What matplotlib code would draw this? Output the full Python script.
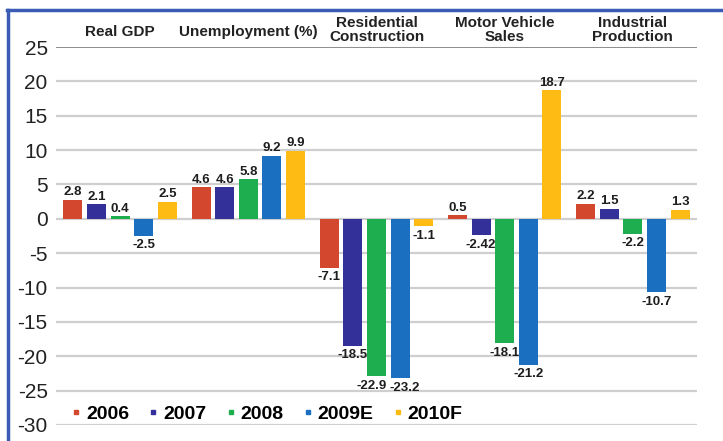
import matplotlib
matplotlib.use("Agg")
import matplotlib.pyplot as plt
from matplotlib.lines import Line2D
import numpy as np

plt.rcParams['font.family'] = ['Liberation Sans', 'DejaVu Sans']

categories = ["Real GDP", "Unemployment (%)", "Residential\nConstruction",
              "Motor Vehicle\nSales", "Industrial\nProduction"]
years = ["2006", "2007", "2008", "2009E", "2010F"]
colors = ["#d4472f", "#33309a", "#1fae4f", "#1a6fc0", "#fdbb13"]

v2006 = [2.8, 4.6, -7.1, 0.5, 2.2]
v2007 = [2.1, 4.6, -18.5, -2.42, 1.5]
v2008 = [0.4, 5.8, -22.9, -18.1, -2.2]
v2009 = [-2.5, 9.2, -23.2, -21.2, -10.7]
v2010 = [2.5, 9.9, -1.1, 18.7, 1.3]
series = [v2006, v2007, v2008, v2009, v2010]
yticks = [25, 20, 15, 10, 5, 0, -5, -10, -15, -20, -25, -30]

fig = plt.figure(figsize=(7.23, 4.41), dpi=100)
ax = fig.add_axes([56 / 723, 1 - 425 / 441, 641 / 723, 378 / 441])

x = np.arange(len(categories))
step = 0.184
width = 0.148
labels = [[None] * len(series) for _ in categories]
for k, (vals, col) in enumerate(zip(series, colors)):
    pos = x + (k - 2) * step
    ax.bar(pos, vals, width=width, color=col, zorder=3)
    for g, (px, v) in enumerate(zip(pos, vals)):
        if v >= 0:
            t = ax.annotate(f"{v:g}", (px, v), xytext=(0, 1), textcoords="offset points",
                            ha="center", va="bottom", fontsize=9.5, fontweight="bold",
                            color="#1e1e1e", zorder=4)
        else:
            t = ax.annotate(f"{v:g}", (px, v), xytext=(0, -2.5), textcoords="offset points",
                            ha="center", va="top", fontsize=9.5, fontweight="bold",
                            color="#1e1e1e", zorder=4)
        labels[g][k] = t

ax.set_xlim(-0.5, len(categories) - 0.5)
ax.set_ylim(-30, 25)
ax.set_yticks(yticks)
ax.set_yticklabels([str(t) for t in yticks], fontsize=15, color="#222222")
ax.tick_params(axis="y", length=0, pad=6)
ax.set_xticks([])
for s in ax.spines.values():
    s.set_visible(False)

for t in yticks:
    if t == 25:
        ax.axhline(t, color="#7a7a7a", lw=1.2, zorder=1)
    else:
        ax.axhline(t, color="#cfcfcf", lw=1.6, zorder=1)

for xi, cat in zip(x, categories):
    ypos = 1.046 if "\n" in cat else 1.039
    ax.text(xi, ypos, cat, transform=ax.get_xaxis_transform(), ha="center",
            va="center", fontsize=11, fontweight="bold", color="#222222",
            linespacing=1.0)

handles = [Line2D([], [], marker="s", linestyle="none", markersize=3.2,
                  color=c) for c in colors]
ax.legend(handles, years, ncol=5, loc="center left",
          bbox_to_anchor=(0.024, 0.028), frameon=False,
          prop={"size": 14, "weight": "bold"}, handlelength=0.5,
          handletextpad=0.25, columnspacing=1.0, borderpad=0,
          borderaxespad=0)

# push apart neighbouring value labels that would collide
fig.canvas.draw()
renderer = fig.canvas.get_renderer()
px_to_pt = 72 / fig.dpi
for row in labels:
    for a, b in zip(row[:-1], row[1:]):
        ba = a.get_window_extent(renderer)
        bb = b.get_window_extent(renderer)
        if ba.overlaps(bb):
            shift = ((ba.x1 - bb.x0) / 2 + 1.5) * px_to_pt
            ax_, ay_ = a.xyann
            bx_, by_ = b.xyann
            a.xyann = (ax_ - shift, ay_)
            b.xyann = (bx_ + shift, by_)

# blue frame along the top and left edges
border = "#3b5cb5"
fig.add_artist(Line2D([8 / 723, 8 / 723], [0, 1 - 10 / 441], color=border,
                      lw=2.5, transform=fig.transFigure))
fig.add_artist(Line2D([7 / 723, 1], [1 - 10 / 441, 1 - 10 / 441], color=border,
                      lw=2.5, transform=fig.transFigure))

fig.savefig("out.png", dpi=100)
